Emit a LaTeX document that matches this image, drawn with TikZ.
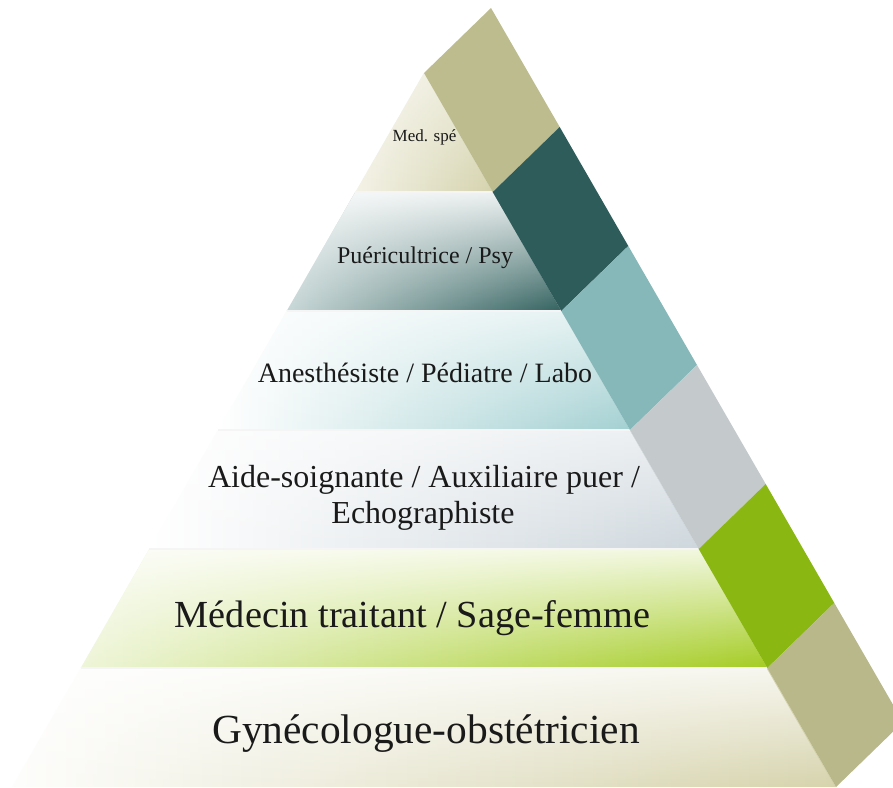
\documentclass[tikz,border=0pt]{standalone}
\usepackage{fontspec}
\setmainfont{Liberation Serif}
\usetikzlibrary{fadings}
\tikzfading[name=topwhite, top color=transparent!0, bottom color=transparent!100]
\definecolor{txt}{HTML}{1A1A1A}
\definecolor{laA}{HTML}{D5D3AD}
\definecolor{laAl}{HTML}{F3F2E6}
\definecolor{laB}{HTML}{33625F}
\definecolor{laBl}{HTML}{C8D7D7}
\definecolor{laC}{HTML}{A3D0D2}
\definecolor{laD}{HTML}{CED7DD}
\definecolor{laE}{HTML}{A4CC22}
\definecolor{laEl}{HTML}{EEF5D8}
\definecolor{laF}{HTML}{D6D3AC}
\definecolor{stA}{HTML}{BDBC8E}
\definecolor{stB}{HTML}{2D5C5A}
\definecolor{stC}{HTML}{87B8B9}
\definecolor{stD}{HTML}{C4CACC}
\definecolor{stE}{HTML}{8BB712}
\definecolor{stF}{HTML}{B8B88B}
\begin{document}
\begin{tikzpicture}[x=1pt,y=-1pt,
  lbl/.style={text=txt, inner sep=0pt, anchor=base, align=center},
  sep/.style={draw=white!92!gray, line width=1.3pt},
  veil/.style={fill=white, path fading=topwhite, fill opacity=#1}]
\useasboundingbox (0,0) rectangle (893,787);
\fill[white] (0,0) rectangle (893,787);
\begin{scope}
\clip (0,0) rectangle (893,787);
% front face corners
\coordinate (L0) at (424,73);    \coordinate (R0) at (424,73);
\coordinate (L1) at (355.3,192); \coordinate (R1) at (492.7,192);
\coordinate (L2) at (286.7,311); \coordinate (R2) at (561.3,311);
\coordinate (L3) at (218,430);   \coordinate (R3) at (630,430);
\coordinate (L4) at (149.3,549); \coordinate (R4) at (698.7,549);
\coordinate (L5) at (80.7,668);  \coordinate (R5) at (767.3,668);
\coordinate (L6) at (12,787);    \coordinate (R6) at (836,787);
% side strip outer corners
\coordinate (S0) at (491,8);
\coordinate (S1) at (559.7,127);
\coordinate (S2) at (628.3,246);
\coordinate (S3) at (697,365);
\coordinate (S4) at (765.7,484);
\coordinate (S5) at (834.3,603);
\coordinate (S6) at (903,722);
% layers
\shade[left color=laAl, right color=laA] (L0) -- (R1) -- (L1) -- cycle;
\fill[veil=0.5] (L0) -- (R1) -- (L1) -- cycle;
\shade[left color=laBl, right color=laB] (L1) -- (R1) -- (R2) -- (L2) -- cycle;
\fill[veil=0.9] (L1) -- (R1) -- (R2) -- (L2) -- cycle;
\shade[left color=white, right color=laC] (L2) -- (R2) -- (R3) -- (L3) -- cycle;
\fill[veil=0.7] (L2) -- (R2) -- (R3) -- (L3) -- cycle;
\shade[left color=white, right color=laD] (L3) -- (R3) -- (R4) -- (L4) -- cycle;
\fill[veil=0.6] (L3) -- (R3) -- (R4) -- (L4) -- cycle;
\shade[left color=laEl, right color=laE] (L4) -- (R4) -- (R5) -- (L5) -- cycle;
\fill[veil=0.85] (L4) -- (R4) -- (R5) -- (L5) -- cycle;
\shade[left color=white!96!laF, right color=laF] (L5) -- (R5) -- (R6) -- (L6) -- cycle;
\fill[veil=0.8] (L5) -- (R5) -- (R6) -- (L6) -- cycle;
% separators
\foreach \k in {1,...,5} { \draw[sep] (L\k) -- (R\k); }
% side strip
\fill[stA] (R0) -- (R1) -- (S1) -- (S0) -- cycle;
\fill[stB] (R1) -- (R2) -- (S2) -- (S1) -- cycle;
\fill[stC] (R2) -- (R3) -- (S3) -- (S2) -- cycle;
\fill[stD] (R3) -- (R4) -- (S4) -- (S3) -- cycle;
\fill[stE] (R4) -- (R5) -- (S5) -- (S4) -- cycle;
\fill[stF] (R5) -- (R6) -- (S6) -- (S5) -- cycle;
\end{scope}
% labels
\node[lbl, font=\fontsize{17}{20}\selectfont] (t1) at (424.5,141) {Med. spé};
\node[lbl, font=\fontsize{24}{28}\selectfont] (t2) at (425,263) {Puéricultrice / Psy};
\node[lbl, font=\fontsize{28}{33}\selectfont] (t3) at (425,382) {Anesthésiste / Pédiatre / Labo};
\node[lbl, font=\fontsize{32}{36}\selectfont] (t4a) at (424,487) {Aide-soignante / Auxiliaire puer /};
\node[lbl, font=\fontsize{32}{36}\selectfont] (t4b) at (423,523) {Echographiste};
\node[lbl, font=\fontsize{38.3}{44}\selectfont] (t5) at (412.5,627) {Médecin traitant / Sage-femme};
\node[lbl, font=\fontsize{41.4}{48}\selectfont] (t6) at (426,743) {Gynécologue-obstétricien};
\end{tikzpicture}
\end{document}
